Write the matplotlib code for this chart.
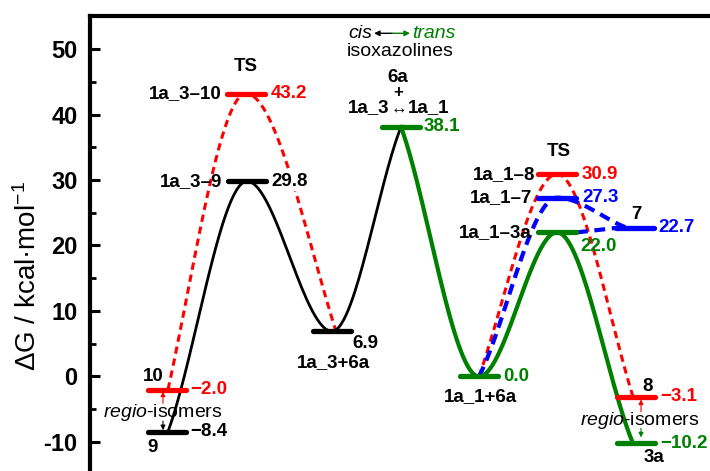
import matplotlib
matplotlib.use('Agg')
import matplotlib.pyplot as plt
import numpy as np

plt.rcParams['font.family'] = ['Liberation Sans', 'DejaVu Sans']
plt.rcParams['axes.unicode_minus'] = False
plt.rcParams['mathtext.fontset'] = 'custom'
plt.rcParams['mathtext.rm'] = 'Liberation Sans'
plt.rcParams['mathtext.it'] = 'Liberation Sans:italic'
plt.rcParams['mathtext.bf'] = 'Liberation Sans:bold'

RED = '#ff0000'
BLUE = '#0000ff'
GREEN = '#008000'
BLACK = '#000000'

# energy levels: name, value (kcal/mol), position along the reaction coordinate
level_names = ['1a_3-10', '1a_3-9', '10', '9', '1a_3+6a', 'cistrans', '1a_1+6a',
               '1a_1-8', '1a_1-7', '1a_1-3a', '7', '8', '3a']
level_values = [43.2, 29.8, -2.0, -8.4, 6.9, 38.1, 0.0, 30.9, 27.3, 22.0, 22.7, -3.1, -10.2]
level_pos = [246, 247, 167, 167, 332, 401, 479, 557, 557, 557, 635, 636, 636]
level_colors = [RED, BLACK, RED, BLACK, BLACK, GREEN, GREEN, RED, BLUE, GREEN, BLUE, RED, GREEN]

# connecting paths (points the curve goes through)
black_x = [168, 247, 332, 401]
black_y = [-8.4, 29.8, 6.9, 38.1]
green_x = [401, 479, 557, 633]
green_y = [38.1, 0.0, 22.0, -10.2]
red1_x = [168, 246, 336]
red1_y = [-2.0, 43.2, 6.9]
red2_x = [479, 557, 633]
red2_y = [0.0, 30.9, -3.1]
blue_x = [479, 557, 627]
blue_y = [0.0, 27.3, 22.7]
blue_link_x = [577, 617]
blue_link_y = [22.0, 22.7]

yticks = [-10, 0, 10, 20, 30, 40, 50]


def hermite(xs, ys, k=0.85, n=60):
    xs = np.asarray(xs, float)
    ys = np.asarray(ys, float)
    m = np.zeros(len(xs))
    m[0] = k * (ys[1] - ys[0]) / (xs[1] - xs[0])
    m[-1] = k * (ys[-1] - ys[-2]) / (xs[-1] - xs[-2])
    px, py = [], []
    for i in range(len(xs) - 1):
        t = np.linspace(0, 1, n)
        h = xs[i + 1] - xs[i]
        h00 = 2 * t**3 - 3 * t**2 + 1
        h10 = t**3 - 2 * t**2 + t
        h01 = -2 * t**3 + 3 * t**2
        h11 = t**3 - t**2
        px.append(xs[i] + h * t)
        py.append(h00 * ys[i] + h10 * h * m[i] + h01 * ys[i + 1] + h11 * h * m[i + 1])
    return np.concatenate(px), np.concatenate(py)


fig = plt.figure(figsize=(7.10, 4.71), dpi=100)
ax = fig.add_axes([90 / 710, 0, 620 / 710, 1 - 16 / 471])
ax.set_xlim(90, 710)
ax.set_ylim(-14.43, 55.04)

# curves
x, y = hermite(red1_x, red1_y, k=1.2)
ax.plot(x, y, color=RED, lw=2.2, dashes=(2.4, 1.6), zorder=2)
x, y = hermite(red2_x, red2_y, k=1.1)
ax.plot(x, y, color=RED, lw=2.2, dashes=(2.4, 1.6), zorder=2)
x, y = hermite(blue_x, blue_y)
ax.plot(x, y, color=BLUE, lw=3.0, dashes=(2.6, 1.6), zorder=2)
ax.plot(blue_link_x, blue_link_y, color=BLUE, lw=3.0, dashes=(2.6, 1.6), zorder=2)
x, y = hermite(black_x, black_y)
ax.plot(x, y, color=BLACK, lw=2.0, zorder=3)
x, y = hermite(green_x, green_y)
ax.plot(x, y, color=GREEN, lw=3.0, zorder=3)

# level bars
for v, p, c in zip(level_values, level_pos, level_colors):
    ax.plot([p - 19, p + 19], [v, v], color=c, lw=3.8, solid_capstyle='round', zorder=4)

lab = dict(fontsize=13.5, fontweight='bold', va='center')


def val(s):
    return s.replace('-', '\u2212')


# left TS block
ax.text(246, 47.3, 'TS', ha='center', color=BLACK, **lab)
ax.text(222, 43.2, '1a_3\u201310', ha='right', color=BLACK, **lab)
ax.text(271, 43.2, val('43.2'), ha='left', color=RED, **lab)
ax.text(222, 29.8, '1a_3\u20139', ha='right', color=BLACK, **lab)
ax.text(271, 29.8, val('29.8'), ha='left', color=BLACK, zorder=5,
        bbox=dict(facecolor='white', edgecolor='none', pad=0.5), **lab)

# left regio-isomers
ax.text(153, 0.0, '10', ha='center', color=BLACK, **lab)
ax.text(153, -10.9, '9', ha='center', color=BLACK, **lab)
ax.text(190, -2.0, val('-2.0'), ha='left', color=RED, **lab)
ax.text(190, -8.4, val('-8.4'), ha='left', color=BLACK, **lab)
ax.text(163, -5.5, r'$\mathit{regio}$-isomers', ha='center', va='center', fontsize=14)
ax.annotate('', xy=(163, -2.3), xytext=(163, -4.1),
            arrowprops=dict(arrowstyle='-|>', color=RED, lw=0.8, mutation_scale=7, shrinkA=0, shrinkB=0))
ax.annotate('', xy=(163, -8.2), xytext=(163, -6.8),
            arrowprops=dict(arrowstyle='-|>', color=BLACK, lw=0.8, mutation_scale=7, shrinkA=0, shrinkB=0))

# intermediate 1a_3+6a
ax.text(352, 5.1, val('6.9'), ha='left', color=BLACK, **lab)
ax.text(333, 2.2, '1a_3+6a', ha='center', color=BLACK, **lab)

# cis/trans isomerisation
ax.text(372, 52.4, 'cis', ha='right', va='center', fontsize=14, style='italic', color=BLACK)
ax.text(412, 52.4, 'trans', ha='left', va='center', fontsize=14, style='italic', color=GREEN)
ax.annotate('', xy=(374, 52.4), xytext=(392, 52.4),
            arrowprops=dict(arrowstyle='-|>', color=BLACK, lw=1.0, mutation_scale=8, shrinkA=0, shrinkB=0))
ax.annotate('', xy=(410, 52.4), xytext=(392, 52.4),
            arrowprops=dict(arrowstyle='-|>', color=GREEN, lw=1.0, mutation_scale=8, shrinkA=0, shrinkB=0))
ax.text(347, 49.6, 'isoxazolines', ha='left', va='center', fontsize=14, color=BLACK)
ax.text(398, 45.6, '6a', ha='center', color=BLACK, **lab)
ax.text(398, 43.3, '+', ha='center', va='center', fontsize=12, fontweight='bold', color=BLACK)
ax.text(389, 41.0, '1a_3', ha='right', color=BLACK, **lab)
ax.text(398.5, 40.9, '\u2194', ha='center', va='center', fontsize=12, color=BLACK)
ax.text(408, 41.0, '1a_1', ha='left', color=BLACK, **lab)
ax.text(424, 38.1, val('38.1'), ha='left', color=GREEN, **lab)

# 1a_1+6a
ax.text(503, 0.0, val('0.0'), ha='left', color=GREEN, **lab)
ax.text(480, -3.1, '1a_1+6a', ha='center', color=BLACK, **lab)

# right TS block
ax.text(559, 34.3, 'TS', ha='center', color=BLACK, **lab)
ax.text(535, 30.9, '1a_1\u20138', ha='right', color=BLACK, **lab)
ax.text(582, 30.9, val('30.9'), ha='left', color=RED, **lab)
ax.text(532, 27.3, '1a_1\u20137', ha='right', color=BLACK, **lab)
ax.text(582, 27.3, val('27.3'), ha='left', color=BLUE, **lab)
ax.text(532, 22.0, '1a_1\u20133a', ha='right', color=BLACK, **lab)
ax.text(580, 19.9, val('22.0'), ha='left', color=GREEN, **lab)
ax.text(636, 24.8, '7', ha='center', color=BLACK, **lab)
ax.text(658, 22.7, val('22.7'), ha='left', color=BLUE, **lab)

# right regio-isomers
ax.text(648, -1.6, '8', ha='center', color=BLACK, **lab)
ax.text(660, -3.1, val('-3.1'), ha='left', color=RED, **lab)
ax.text(654, -12.4, '3a', ha='center', color=BLACK, **lab)
ax.text(660, -10.2, val('-10.2'), ha='left', color=GREEN, **lab)
ax.text(640, -6.7, r'$\mathit{regio}$-isomers', ha='center', va='center', fontsize=14)
ax.annotate('', xy=(641, -3.5), xytext=(641, -5.4),
            arrowprops=dict(arrowstyle='-|>', color=RED, lw=0.8, mutation_scale=7, shrinkA=0, shrinkB=0))
ax.annotate('', xy=(641, -9.3), xytext=(641, -7.9),
            arrowprops=dict(arrowstyle='-|>', color=GREEN, lw=0.8, mutation_scale=7, shrinkA=0, shrinkB=0))

# axes styling
for s in ['right', 'bottom']:
    ax.spines[s].set_visible(False)
ax.spines['top'].set_linewidth(3.0)
ax.spines['left'].set_linewidth(3.0)
ax.set_xticks([])
ax.set_yticks(yticks)
ax.set_yticklabels([str(t) for t in yticks])
ax.set_yticks(np.arange(-10, 55, 5), minor=True)
ax.tick_params(axis='y', which='major', direction='in', length=7, width=2.2, pad=9,
               labelsize=17)
ax.tick_params(axis='y', which='minor', direction='in', length=4.5, width=2.0)
for t in ax.get_yticklabels():
    t.set_fontweight('bold')
fig.text(28 / 710, 1 - 276 / 471, '\u0394G / kcal\u00b7mol$^{\u22121}$', rotation=90,
         ha='center', va='center', fontsize=20)

fig.savefig('out.png', dpi=100)
